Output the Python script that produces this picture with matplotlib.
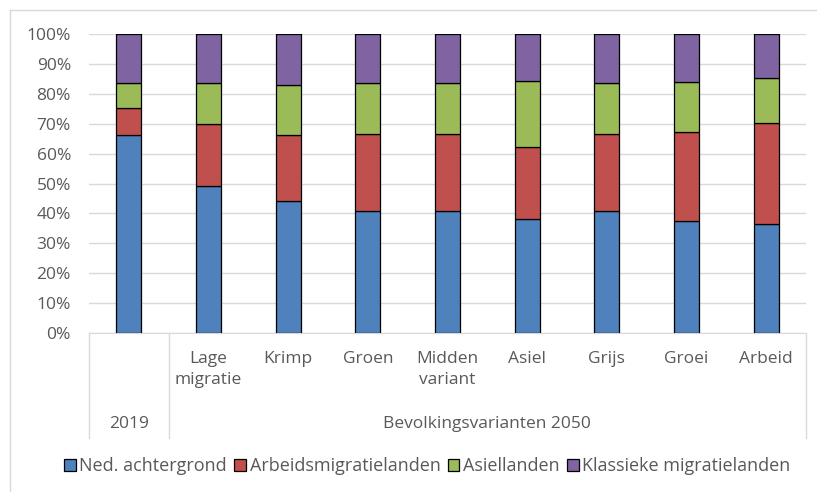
import matplotlib
matplotlib.use('Agg')
import matplotlib.pyplot as plt
from matplotlib.lines import Line2D
import numpy as np

plt.rcParams['font.family'] = ['Open Sans', 'DejaVu Sans']

categories = ['', 'Lage\nmigratie', 'Krimp', 'Groen', 'Midden\nvariant', 'Asiel', 'Grijs', 'Groei', 'Arbeid']
groups = ['2019', 'Bevolkingsvarianten 2050']

# cumulative tops (%)
ned = [66.1, 49.2, 44.1, 40.8, 40.8, 38.1, 40.8, 37.3, 36.4]
arbeid_top = [75.1, 69.8, 66.1, 66.5, 66.5, 62.1, 66.5, 67.1, 70.2]
asiel_top = [83.5, 83.5, 83.0, 83.5, 83.5, 84.4, 83.5, 83.9, 85.4]

arbeid = [a - b for a, b in zip(arbeid_top, ned)]
asiel = [a - b for a, b in zip(asiel_top, arbeid_top)]
klassiek = [100 - a for a in asiel_top]

series = ['Ned. achtergrond', 'Arbeidsmigratielanden', 'Asiellanden', 'Klassieke migratielanden']
colors = ['#4F81BD', '#C0504D', '#9BBB59', '#8064A2']
grey = '#595959'
line_grey = '#D9D9D9'
fs = 12.5

fig = plt.figure(figsize=(8.17, 4.92), dpi=100)
ax = fig.add_axes([89/817, 1 - 333/492, (806 - 89)/817, (333 - 34)/492])

x = np.arange(len(categories))
bottom = np.zeros(len(categories))
for vals, col, name in zip([ned, arbeid, asiel, klassiek], colors, series):
    ax.bar(x, vals, 0.31, bottom=bottom, color=col, edgecolor='black',
           linewidth=0.9, label=name, zorder=3)
    bottom += np.array(vals)

ax.set_xlim(-0.5, len(categories) - 0.5)
ax.set_ylim(0, 100)
ax.set_yticks(range(0, 101, 10))
ax.set_yticklabels([f'{v}%' for v in range(0, 101, 10)], color=grey, fontsize=fs)
ax.tick_params(axis='y', length=0, pad=13)
ax.set_xticks([])
ax.grid(axis='y', color=line_grey, linewidth=1, zorder=0)
for s in ['top', 'right', 'left']:
    ax.spines[s].set_visible(False)
ax.spines['bottom'].set_color(line_grey)

# multi-level category axis
tr = ax.get_xaxis_transform()
for i, lab in enumerate(categories):
    ax.text(i, -0.06, lab, transform=tr, ha='center', va='top',
            fontsize=fs, color=grey, linespacing=1.4)
ax.text(0, -0.303, groups[0], transform=tr, ha='center', va='center', fontsize=fs, color=grey)
ax.text(4.5, -0.303, groups[1], transform=tr, ha='center', va='center', fontsize=fs, color=grey)
for xv in [-0.5, 0.5, 8.5]:
    ax.plot([xv, xv], [0, -0.35], transform=tr, color=line_grey, linewidth=1, clip_on=False)

# chart area frame
fig.add_artist(Line2D([10/817, 10/817], [0, 1 - 10/492], color=line_grey, linewidth=1))
fig.add_artist(Line2D([10/817, 1], [1 - 10/492, 1 - 10/492], color=line_grey, linewidth=1))

fig.legend(loc='center', bbox_to_anchor=(0.523, 26/492), ncol=4, frameon=False,
           fontsize=13, labelcolor=grey, handlelength=0.65, handleheight=0.65,
           handletextpad=0.2, columnspacing=0.4, borderaxespad=0)

fig.savefig('out.png', dpi=100)
